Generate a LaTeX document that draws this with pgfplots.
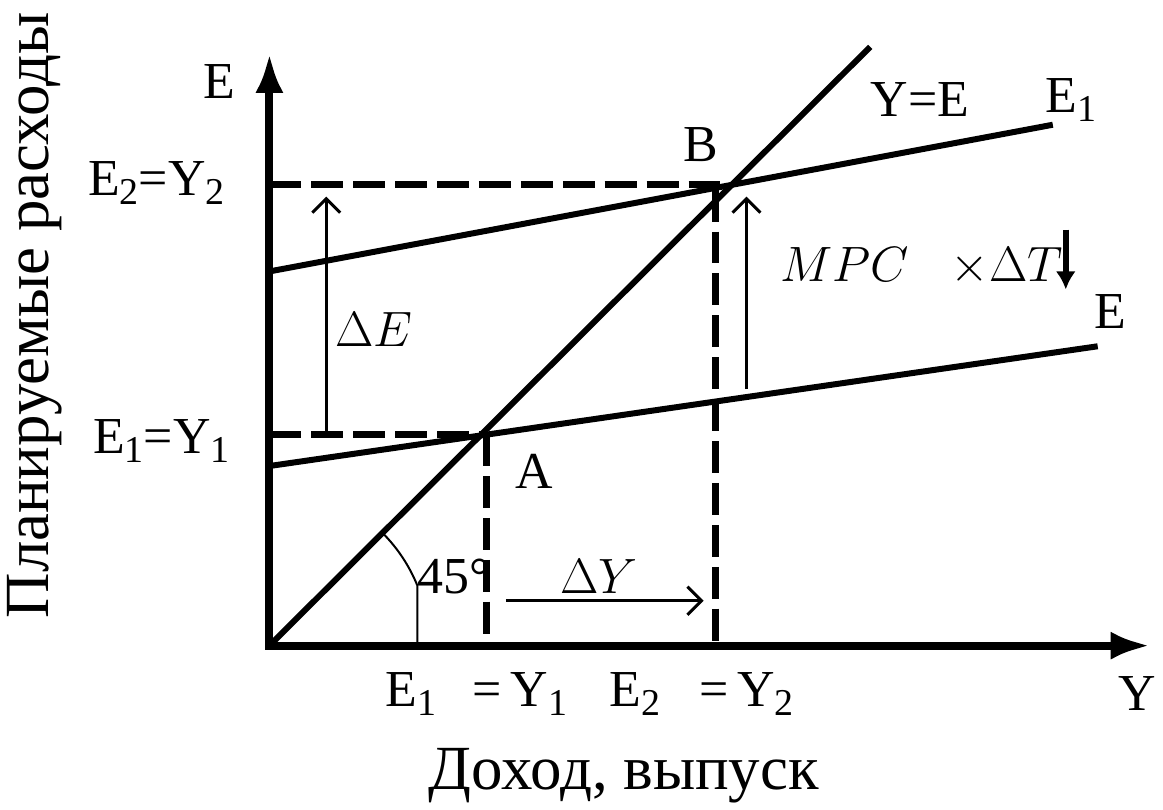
\documentclass[border=0pt]{standalone}
\usepackage{pgfplots}
\pgfplotsset{compat=1.18}
\usetikzlibrary{arrows.meta}
\usepackage{fontspec}
\setmainfont{Liberation Serif}
% lowered, slightly smaller digit for E1, Y2 ...
\newcommand{\sub}[1]{\raisebox{-4.5pt}{\fontsize{19}{19}\selectfont #1}}

\begin{document}
\begin{tikzpicture}[font=\fontsize{26}{30}\selectfont]
\begin{axis}[
  x=0.5pt, y=0.5pt,
  xmin=0, xmax=883, ymin=0, ymax=594,
  axis lines=left,
  axis line style={line width=4pt, line cap=rect},
  x axis line style={-{Latex[length=20pt,width=14pt]}},
  y axis line style={-{Latex[length=20pt,width=14pt]}},
  ticks=none,
  clip=false,
]
% Y=E (45 degree line)
\addplot[black, line width=3pt] coordinates {(0,0) (602,600)};
% E and E1
\addplot[black, line width=3pt] coordinates {(0,180) (830,300)};
\addplot[black, line width=3pt] coordinates {(0,375) (785,522)};
% dashed guides
\addplot[black, line width=3.5pt, dash pattern=on 16pt off 5pt] coordinates {(0,212) (216,212)};
\addplot[black, line width=3.5pt, dash pattern=on 16pt off 5pt] coordinates {(218,212) (218,0)};
\addplot[black, line width=3.5pt, dash pattern=on 16pt off 5pt] coordinates {(0,462) (457,462)};
\addplot[black, line width=3.5pt, dash pattern=on 16pt off 5pt] coordinates {(447,457) (447,0)};
% arrows
\addplot[black, line width=1.5pt, -{Straight Barb[length=7pt,width=14pt]}] coordinates {(57,212) (57,450)};
\addplot[black, line width=1.5pt, -{Straight Barb[length=7pt,width=14pt]}] coordinates {(478,257) (478,450)};
\addplot[black, line width=1.5pt, -{Straight Barb[length=7pt,width=14pt]}] coordinates {(237,45) (435,45)};
\addplot[black, line width=3pt, -{Latex[length=9pt,width=10pt]}] coordinates {(798,417) (798,357)};
% 45 degree arc
\draw[line width=1pt] (axis cs:0,0) ++(45:80pt) arc[start angle=45, end angle=22, radius=80pt] -- ++(0,-29.97pt);

\node at (axis cs:-50,565) {E};
\node[anchor=east] at (axis cs:-38,464) {E\sub{2}=Y\sub{2}};
\node[anchor=east] at (axis cs:-33,205) {E\sub{1}=Y\sub{1}};
\node at (axis cs:652,547) {Y=E};
\node at (axis cs:803,547) {E\sub{1}};
\node at (axis cs:843,335) {E};
\node at (axis cs:432,502) {B};
\node at (axis cs:265,175) {A};
\node at (axis cs:105,317) {$\Delta E$};
\node at (axis cs:330,69) {$\Delta Y$};
\node at (axis cs:185,69) {45°};
\node[anchor=west] at (axis cs:505,380) {$MPC$\hspace{0.8em}$\times\Delta T$};

\node[anchor=base] at (axis cs:142,-61) {E\sub{1}};
\node[anchor=base] at (axis cs:251,-61) {=\,Y\sub{1}};
\node[anchor=base] at (axis cs:366,-61) {E\sub{2}};
\node[anchor=base] at (axis cs:478,-61) {=\,Y\sub{2}};
\node at (axis cs:870,-48) {Y};

\node[font=\fontsize{31.5}{36}\selectfont] at (axis cs:355,-130) {Доход, выпуск};
\node[rotate=90, font=\fontsize{31.5}{36}\selectfont] at (axis cs:-235,331) {Планируемые расходы};

\coordinate (bl) at (axis cs:-270,-155);
\coordinate (tr) at (axis cs:893,647);
\end{axis}
\path (bl) rectangle (tr);
\end{tikzpicture}
\end{document}
